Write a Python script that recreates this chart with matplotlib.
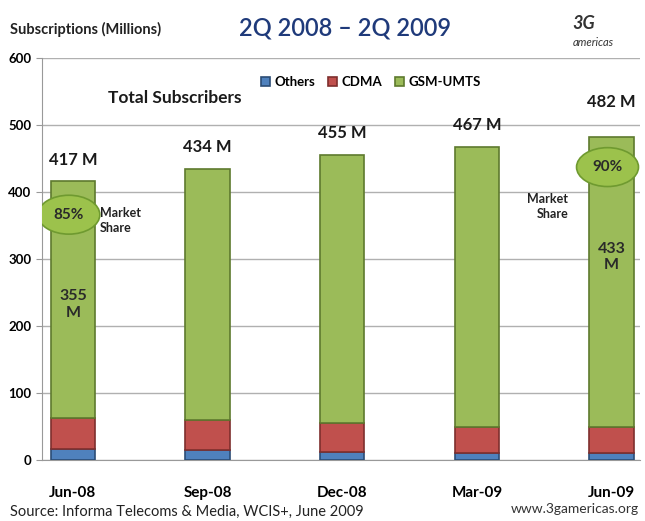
import matplotlib.pyplot as plt
from matplotlib.patches import Ellipse
import numpy as np

plt.rcParams['font.family'] = ['Lato', 'DejaVu Sans']

quarters = ["Jun-08", "Sep-08", "Dec-08", "Mar-09", "Jun-09"]
others = [17, 15, 12, 10, 10]
cdma = [45, 45, 43, 39, 39]
gsm_umts = [355, 374, 400, 418, 433]
totals = [417, 434, 455, 467, 482]
label_offsets = [15, 16, 16, 16, 25]

C_OTHERS = "#4F81BD"
C_CDMA = "#C0504D"
C_GSM = "#9BBB59"

fig = plt.figure(figsize=(6.45, 5.21), dpi=100)
ax = fig.add_axes([0.065, 0.117, 0.927, 0.772])

x = np.arange(len(quarters))
w = 0.33
gsm_bottom = np.array(others) + np.array(cdma)
ax.bar(x, others, w, color=C_OTHERS, edgecolor="#2C4D75", linewidth=1.2, label="Others", zorder=3)
ax.bar(x, cdma, w, bottom=others, color=C_CDMA, edgecolor="#7E2F2D", linewidth=1.2, label="CDMA", zorder=3)
ax.bar(x, gsm_umts, w, bottom=gsm_bottom, color=C_GSM, edgecolor="#5E7A2E", linewidth=1.2, label="GSM-UMTS", zorder=3)

for xi, t, off in zip(x, totals, label_offsets):
    ax.annotate(f"{t} M", (xi, t), xytext=(0, off), textcoords="offset points",
                ha="center", va="center", fontsize=12, fontweight="bold", color="#1a1a1a")

# market share bubbles
for xi, pct, yy in [(0, "85%", 366), (4, "90%", 437)]:
    e = Ellipse((xi - 0.03, yy), 0.46, 58, facecolor="#9CC24C", edgecolor="#6F9A30", lw=1.2, zorder=4)
    ax.add_patch(e)
    ax.text(xi - 0.03, yy, pct, ha="center", va="center", fontsize=11, fontweight="bold", color="#2a2a2a", zorder=5)

ax.text(0.2, 357, "Market\nShare", ha="left", va="center", fontsize=9, fontweight="bold", color="#222222", linespacing=1.3)
ax.text(3.68, 378, "Market\nShare", ha="right", va="center", fontsize=9, fontweight="bold", color="#222222", linespacing=1.3)
ax.text(0, 232, f"{gsm_umts[0]}\nM", ha="center", va="center", fontsize=11.5, fontweight="bold", color="#2a2a2a", zorder=5)
ax.text(4, 303, f"{gsm_umts[4]}\nM", ha="center", va="center", fontsize=11.5, fontweight="bold", color="#2a2a2a", zorder=5)

ax.text(0.26, 540, "Total Subscribers", ha="left", va="center", fontsize=12.5, fontweight="bold", color="#1a1a1a")

ax.set_xlim(-0.23, 4.21)
ax.set_ylim(0, 600)
ax.set_yticks(range(0, 601, 100))
ax.set_xticks(x)
ax.set_xticklabels(quarters, fontsize=11, fontweight="bold")
ax.tick_params(axis="x", length=0, pad=19)
ax.tick_params(axis="y", length=4, color="#999999", labelsize=9.5)
for lbl in ax.get_yticklabels():
    lbl.set_fontweight("bold")
ax.grid(axis="y", color="#b0b0b0", lw=1, zorder=0)
for s in ["top", "right"]:
    ax.spines[s].set_visible(False)
ax.spines["left"].set_color("#999999")
ax.spines["bottom"].set_color("#999999")

leg = ax.legend(loc="upper center", bbox_to_anchor=(0.55, 0.985), ncol=3, frameon=False,
                fontsize=9.5, handlelength=0.7, handleheight=0.7, columnspacing=1.0, handletextpad=0.3)
for t in leg.get_texts():
    t.set_fontweight("bold")

fig.text(0.016, 0.943, "Subscriptions (Millions)", fontsize=10.5, fontweight="bold", color="#222222", va="center")
fig.text(0.535, 0.947, "2Q 2008 \u2013 2Q 2009", fontsize=17, fontweight="semibold", color="#1F3A7A", ha="center", va="center")
fig.text(0.905, 0.955, "3G", fontsize=13, fontstyle="italic", fontweight="bold", color="#333333", ha="center", va="center")
fig.text(0.92, 0.918, "americas", fontsize=8, fontstyle="italic", color="#333333", ha="center", va="center")
fig.text(0.016, 0.005, "Source: Informa Telecoms & Media, WCIS+, June 2009", fontsize=10.5, color="#222222", va="bottom")
fig.text(0.99, 0.012, "www.3gamericas.org", fontsize=10, color="#333333", ha="right", va="bottom")

fig.savefig("out.png", dpi=100)
